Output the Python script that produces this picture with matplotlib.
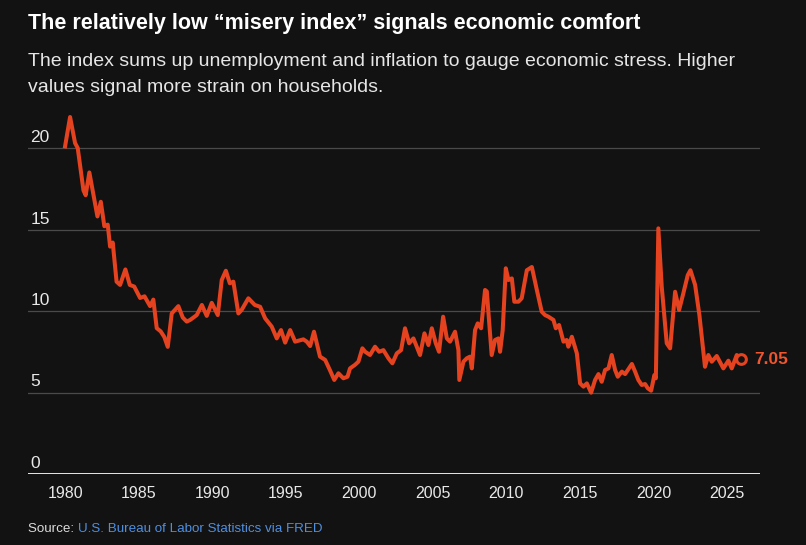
import matplotlib
matplotlib.use("Agg")
import matplotlib.pyplot as plt
import matplotlib.transforms as mtransforms

# Misery index (unemployment + inflation)
yillar = [1980.0, 1980.34, 1980.68, 1980.86, 1981.25, 1981.4, 1981.65, 1982.2, 1982.43, 1982.67,
          1982.9, 1983.06, 1983.24, 1983.5, 1983.74, 1984.1, 1984.4, 1984.7, 1985.1, 1985.4,
          1985.78, 1986.0, 1986.23, 1986.5, 1986.75, 1986.98, 1987.25, 1987.7, 1988.0, 1988.27,
          1988.5, 1988.95, 1989.3, 1989.63, 1989.97, 1990.15, 1990.38, 1990.65, 1990.93, 1991.2,
          1991.44, 1991.78, 1992.0, 1992.46, 1992.9, 1993.26, 1993.6, 1994.05, 1994.39, 1994.68,
          1994.96, 1995.3, 1995.64, 1996.2, 1996.43, 1996.66, 1996.92, 1997.33, 1997.68, 1998.0,
          1998.3, 1998.58, 1998.92, 1999.2, 1999.37, 1999.7, 1999.94, 2000.21, 2000.4, 2000.73,
          2001.07, 2001.35, 2001.64, 2001.98, 2002.25, 2002.55, 2002.84, 2003.11, 2003.39, 2003.68,
          2004.13, 2004.43, 2004.7, 2004.93, 2005.2, 2005.42, 2005.7, 2005.95, 2006.17, 2006.51,
          2006.74, 2006.8, 2007.08, 2007.31, 2007.53, 2007.65, 2007.87, 2008.05, 2008.28, 2008.55,
          2008.67, 2009.0, 2009.23, 2009.46, 2009.57, 2009.75, 2009.96, 2010.14, 2010.37, 2010.54,
          2010.82, 2011.04, 2011.39, 2011.73, 2012.07, 2012.4, 2012.63, 2012.86, 2013.2, 2013.36,
          2013.58, 2013.88, 2014.1, 2014.21, 2014.45, 2014.79, 2015.01, 2015.24, 2015.47, 2015.76,
          2016.03, 2016.26, 2016.48, 2016.71, 2016.94, 2017.16, 2017.39, 2017.57, 2017.85, 2018.07,
          2018.53, 2018.75, 2018.97, 2019.2, 2019.43, 2019.61, 2019.84, 2020.06, 2020.16, 2020.33,
          2020.56, 2020.9, 2021.13, 2021.47, 2021.74, 2022.03, 2022.33, 2022.51, 2022.83, 2023.12,
          2023.28, 2023.5, 2023.73, 2023.96, 2024.3, 2024.75, 2025.09, 2025.32, 2025.66, 2025.98]
endeks = [20.1, 21.9, 20.3, 20.0, 17.4, 17.1, 18.5, 15.8, 16.7, 15.2,
          15.3, 13.95, 14.2, 11.8, 11.6, 12.55, 11.6, 11.5, 10.8, 10.9,
          10.3, 10.7, 8.95, 8.75, 8.4, 7.8, 9.85, 10.3, 9.6, 9.35,
          9.45, 9.75, 10.37, 9.7, 10.5, 10.17, 9.75, 11.9, 12.47, 11.7,
          11.8, 9.85, 10.06, 10.78, 10.37, 10.26, 9.55, 9.04, 8.32, 8.83,
          8.06, 8.83, 8.12, 8.26, 8.12, 7.85, 8.73, 7.2, 7.0, 6.38,
          5.77, 6.18, 5.87, 5.97, 6.48, 6.69, 6.89, 7.71, 7.5, 7.3,
          7.81, 7.5, 7.6, 7.1, 6.79, 7.4, 7.6, 8.94, 8.02, 8.32,
          7.3, 8.63, 7.91, 8.94, 8.02, 7.5, 9.65, 8.32, 8.12, 8.73,
          7.6, 5.77, 6.89, 7.1, 7.2, 6.48, 8.83, 9.24, 8.94, 11.29,
          11.2, 7.3, 8.22, 8.32, 7.5, 8.83, 12.62, 11.9, 12.0, 10.57,
          10.57, 10.78, 12.5, 12.7, 11.29, 9.96, 9.75, 9.65, 9.45, 8.94,
          9.14, 8.12, 8.22, 7.81, 8.42, 7.4, 5.56, 5.36, 5.56, 4.99,
          5.77, 6.13, 5.66, 6.38, 6.48, 7.3, 6.38, 5.97, 6.28, 6.13,
          6.75, 6.28, 5.77, 5.46, 5.52, 5.26, 5.11, 6.07, 5.87, 15.07,
          11.49, 8.02, 7.71, 11.18, 10.06, 11.09, 12.2, 12.5, 11.6, 9.75,
          8.42, 6.58, 7.3, 6.89, 7.24, 6.48, 6.95, 6.48, 7.3, 7.05]

y_ticks = [0, 5, 10, 15, 20]
x_ticks = [1980, 1985, 1990, 1995, 2000, 2005, 2010, 2015, 2020, 2025]
son_deger = "7.05"

# -------------------------------
# Styling
# -------------------------------
arka = "#121212"
kirmizi = "#e5421f"
yazi_font = ["Liberation Sans", "DejaVu Sans"]

W, H = 806, 545
fig = plt.figure(figsize=(W / 100, H / 100), dpi=100, facecolor=arka)

# axes box in pixels: left 28, right 760, baseline at y=474
x0, x1 = 28, 760
ymin, ymax = 0, 22
y_base = 474
px_per_unit = 16.3
y_top = y_base - (ymax - ymin) * px_per_unit
ax = fig.add_axes([x0 / W, (H - y_base) / H, (x1 - x0) / W, (y_base - y_top) / H])
ax.set_facecolor(arka)
ax.set_xlim(1977.48, 2027.24)
ax.set_ylim(ymin, ymax)

for s in ax.spines.values():
    s.set_visible(False)

# grid lines, labels sit just above them
for t in y_ticks:
    if t == 0:
        ax.axhline(0, color="#e6e6e6", lw=1.4, zorder=2)
    else:
        ax.axhline(t, color="#4a4a4a", lw=0.9, zorder=1)
    off = mtransforms.offset_copy(ax.transData, fig=fig, x=0, y=3, units="dots")
    tr = mtransforms.blended_transform_factory(ax.transAxes, off)
    ax.text(0.003, t, str(t), transform=tr, color="#e8e8e8", fontsize=12.5,
            family=yazi_font, ha="left", va="bottom")

ax.set_yticks([])
ax.set_xticks(x_ticks)
ax.set_xticklabels([str(x) for x in x_ticks], family=yazi_font, fontsize=11.5, color="#e8e8e8")
ax.tick_params(axis="x", length=0, pad=9)

ax.plot(yillar, endeks, color=kirmizi, lw=2.9, solid_joinstyle="round", zorder=3)
ax.plot([yillar[-1]], [endeks[-1]], marker="o", ms=7, mfc=arka, mec=kirmizi, mew=2.2, zorder=4)
ax.annotate(son_deger, (yillar[-1], endeks[-1]), xytext=(9, 0), textcoords="offset points",
            color="#f0552e", fontsize=12.5, fontweight="bold", family=yazi_font,
            va="center", ha="left")

# -------------------------------
# Titles and source
# -------------------------------
fig.text(28 / W, 1 - 24 / H, "The relatively low \u201cmisery index\u201d signals economic comfort",
         color="white", fontsize=15.5, fontweight="bold", family=yazi_font, va="center", ha="left")
fig.text(28 / W, 1 - 62 / H, "The index sums up unemployment and inflation to gauge economic stress. Higher",
         color="#e6e6e6", fontsize=14, family=yazi_font, va="center", ha="left")
fig.text(28 / W, 1 - 87 / H, "values signal more strain on households.",
         color="#e6e6e6", fontsize=14, family=yazi_font, va="center", ha="left")

kaynak = fig.text(28 / W, 1 - 529 / H, "Source: ", color="#dcdcdc", fontsize=9.6,
                  family=yazi_font, va="center", ha="left")
fig.canvas.draw()
bb = kaynak.get_window_extent()
fig.text(bb.x1 / W, 1 - 529 / H, "U.S. Bureau of Labor Statistics via FRED", color="#4f8fe0",
         fontsize=9.6, family=yazi_font, va="center", ha="left")

plt.savefig("out.png", dpi=100, facecolor=arka)
